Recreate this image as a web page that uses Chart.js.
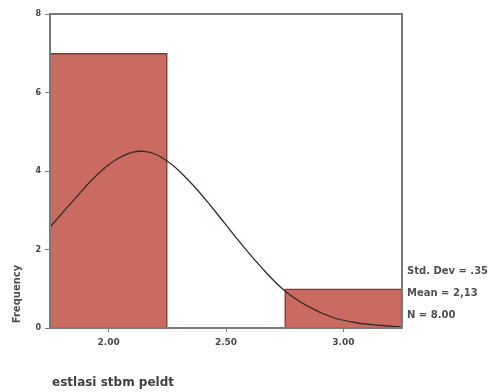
<!DOCTYPE html>
<html>
<head>
<meta charset="utf-8">
<script src="https://cdn.jsdelivr.net/npm/chart.js@4"></script>
<style>
  html, body { margin: 0; padding: 0; background: #fff; }
  #wrap { width: 490px; height: 392px; position: relative; }
</style>
</head>
<body>
<div id="wrap"><canvas id="chart" width="490" height="392"></canvas></div>
<script>
// histogram bins (centres) and counts
const binCentres = [2.00, 2.50, 3.00]
const binCounts = [7, 0, 1]

// normal curve
const curveX = [1.75, 1.85, 1.95, 2.05, 2.15, 2.25, 2.35, 2.45, 2.55, 2.65, 2.75, 2.85, 2.95, 3.05, 3.15, 3.25]
const curveY = [2.57, 3.25, 3.9, 4.35, 4.5, 4.25, 3.7, 3.0, 2.25, 1.55, 0.95, 0.55, 0.28, 0.14, 0.07, 0.03]

const xTicks = [2.00, 2.50, 3.00]
const yTicks = [0, 2, 4, 6, 8]

const statLines = ["Std. Dev = .35", "Mean = 2,13", "N = 8.00"]
const xTitle = "estlasi stbm peldt"
const yTitle = "Frequency"

// frame + labels drawn on top of the chart area
const extras = {
  id: 'extras',
  afterDraw(chart) {
    const { ctx, chartArea: a } = chart
    ctx.save()
    ctx.strokeStyle = '#7a7a7a'
    ctx.lineWidth = 2
    ctx.strokeRect(a.left, a.top, a.right - a.left, a.bottom - a.top)

    ctx.fillStyle = '#505050'
    ctx.font = 'bold 10px "DejaVu Sans"'
    ctx.textBaseline = 'middle'
    ctx.textAlign = 'left'
    statLines.forEach((t, i) => ctx.fillText(t, a.right + 5, 271 + i * 22))

    ctx.fillStyle = '#404040'
    ctx.font = 'bold 12px "DejaVu Sans"'
    ctx.fillText(xTitle, 52, 383)

    ctx.fillStyle = '#505050'
    ctx.font = 'bold 10px "DejaVu Sans"'
    ctx.translate(17, 294)
    ctx.rotate(-Math.PI / 2)
    ctx.textAlign = 'center'
    ctx.fillText(yTitle, 0, 0)
    ctx.restore()
  }
}

new Chart(document.getElementById('chart'), {
  data: {
    datasets: [
      {
        type: 'line',
        data: curveX.map((x, i) => ({ x: x, y: curveY[i] })),
        borderColor: '#3a2828',
        borderWidth: 1.3,
        pointRadius: 0,
        tension: 0.4,
        order: 0
      },
      {
        type: 'bar',
        data: binCentres.map((x, i) => ({ x: x, y: binCounts[i] })),
        backgroundColor: '#c96b60',
        borderColor: '#7e3a33',
        borderWidth: 1.5,
        barPercentage: 1,
        categoryPercentage: 1,
        order: 1
      }
    ]
  },
  options: {
    responsive: false,
    animation: false,
    layout: { padding: { top: 14, right: 88, left: 0, bottom: 0 } },
    plugins: { legend: { display: false }, tooltip: { enabled: false } },
    scales: {
      x: {
        type: 'linear',
        offset: false,
        min: 1.75,
        max: 3.25,
        afterBuildTicks: s => { s.ticks = xTicks.map(v => ({ value: v })) },
        afterFit: s => { s.height = 64 },
        grid: { drawOnChartArea: false, offset: false, tickLength: 4, color: '#777' },
        border: { color: '#777', width: 2 },
        ticks: {
          color: '#4a4a4a',
          font: { size: 9, family: 'DejaVu Sans', weight: 'bold' },
          padding: 5,
          maxRotation: 0,
          callback: v => v.toFixed(2)
        }
      },
      y: {
        min: 0,
        max: 8,
        afterBuildTicks: s => { s.ticks = yTicks.map(v => ({ value: v })) },
        afterFit: s => { s.width = 50 },
        grid: { drawOnChartArea: false, tickLength: 5, color: '#777' },
        border: { color: '#777', width: 2 },
        ticks: {
          color: '#444',
          font: { size: 8, family: 'DejaVu Sans', weight: 'bold' },
          padding: 4
        }
      }
    }
  },
  plugins: [extras]
})
</script>
</body>
</html>
